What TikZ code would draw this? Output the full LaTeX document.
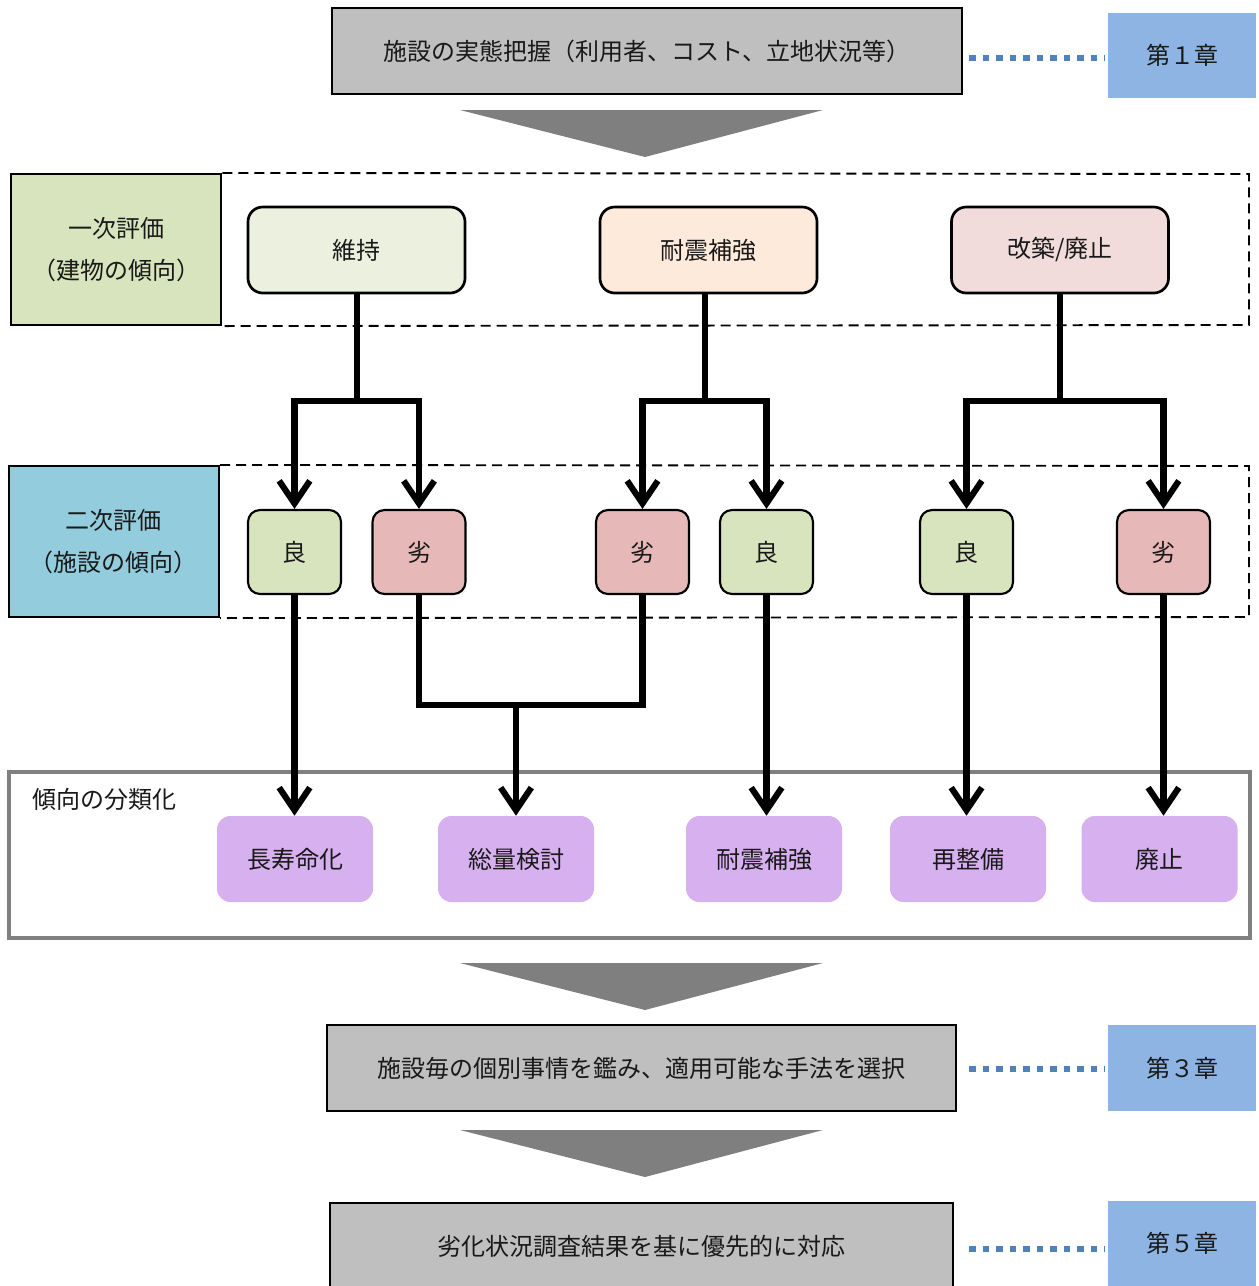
\documentclass[tikz,border=0pt]{standalone}
\usepackage{fontspec}
\setmainfont{Noto Sans CJK JP}
\usetikzlibrary{arrows.meta}
\definecolor{boxgray}{HTML}{BFBFBF}
\definecolor{chblue}{HTML}{8EB4E3}
\definecolor{lblgreen}{HTML}{D7E4BD}
\definecolor{lblblue}{HTML}{93CDDD}
\definecolor{keepc}{HTML}{EBF1DE}
\definecolor{seisc}{HTML}{FDEADA}
\definecolor{kaic}{HTML}{F2DCDB}
\definecolor{goodc}{HTML}{D7E4BD}
\definecolor{badc}{HTML}{E6B9B8}
\definecolor{purp}{HTML}{D7B0EF}
\definecolor{dotblue}{HTML}{4F81BD}
\definecolor{trigray}{HTML}{7F7F7F}
\definecolor{framegray}{HTML}{808080}
\tikzset{
  txt/.style={font=\fontsize{18}{31}\selectfont, text=black!90, align=center, inner sep=0pt},
  graybox/.style={txt, draw=black, line width=2pt, fill=boxgray, minimum height=64.5pt},
  chbox/.style={txt, fill=chblue, minimum width=111pt, minimum height=64pt},
  lblbox/.style={txt, draw=black, line width=1.6pt, minimum width=158pt, minimum height=113.25pt},
  evalbox/.style={txt, draw=black, line width=2pt, rounded corners=11pt, minimum width=162.75pt, minimum height=64.5pt},
  smallbox/.style={txt, draw=black, line width=1.6pt, rounded corners=9pt, minimum width=69.75pt, minimum height=63pt},
  resbox/.style={txt, fill=purp, rounded corners=10pt, minimum width=117pt, minimum height=64.5pt},
  conn/.style={line width=4.6pt, line join=miter},
  arr/.style={conn, -{Straight Barb[length=17pt,width=23pt,line width=4.6pt]}},
  dotline/.style={dotblue, line width=5pt, dash pattern=on 5pt off 5.1pt},
  dashframe/.style={line width=1.4pt, dash pattern=on 7.5pt off 4.5pt},
}
\begin{document}
\begin{tikzpicture}[x=0.75pt,y=-0.75pt]
\useasboundingbox (0,0) rectangle (1258,1286);

% top box and chapter 1
\node[graybox, minimum width=472.5pt] (top) at (647,51) {施設の実態把握（利用者、コスト、立地状況等）};
\node[chbox] (ch1) at (1182,55.5) {第１章};
\draw[dotline] ([xshift=4.5pt]top.east |- 0,58) -- ([xshift=-2pt]ch1.west |- 0,58);

\fill[trigray] (460,110) -- (823,110) -- (645,157) -- cycle;

% first evaluation band
\node[lblbox, fill=lblgreen] (l1) at (116,249.5) {一次評価\\（建物の傾向）};
\draw[dashframe] (l1.north east) -- (1249,174) -- (1249,325) -- (l1.south east);

\node[evalbox, fill=keepc] (e1) at (356.5,250) {維持};
\node[evalbox, fill=seisc] (e2) at (708.5,250) {耐震補強};
\node[evalbox, fill=kaic]  (e3) at (1060,250) {改築/廃止};

% second evaluation band
\node[lblbox, fill=lblblue, minimum width=157.5pt] (l2) at (114,541.5) {二次評価\\（施設の傾向）};
\draw[dashframe] (l2.north east) -- (1249,466) -- (1249,617) -- (l2.south east);

\node[smallbox, fill=goodc] (r1) at (294.5,552) {良};
\node[smallbox, fill=badc]  (r2) at (419,552)   {劣};
\node[smallbox, fill=badc]  (r3) at (642.5,552) {劣};
\node[smallbox, fill=goodc] (r4) at (766.5,552) {良};
\node[smallbox, fill=goodc] (r5) at (966.5,552) {良};
\node[smallbox, fill=badc]  (r6) at (1163.5,552) {劣};

% classification frame
\draw[framegray, line width=3pt] (9,772) rectangle (1250,938);
\node[txt, anchor=west] (cls) at (32,799) {傾向の分類化};

\node[resbox] (p1) at (295,859)    {長寿命化};
\node[resbox] (p2) at (516,859)    {総量検討};
\node[resbox] (p3) at (764,859)    {耐震補強};
\node[resbox] (p4) at (968,859)    {再整備};
\node[resbox] (p5) at (1159.5,859) {廃止};

% branches from first evaluation
\coordinate (b1) at (357,401);
\coordinate (b2) at (705,401);
\coordinate (b3) at (1060,401);
\draw[conn] (e1.south -| b1) -- (b1);
\draw[conn] (e2.south -| b2) -- (b2);
\draw[conn] (e3.south -| b3) -- (b3);
\draw[arr] (b1) -| (r1.north);
\draw[arr] (b1) -| (r2.north);
\draw[arr] (b2) -| (r3.north);
\draw[arr] (b2) -| (r4.north);
\draw[arr] (b3) -| (r5.north);
\draw[arr] (b3) -| (r6.north);

% second evaluation to classification
\coordinate (m) at (516,705);
\draw[arr] (r1.south) -- (r1.south |- p1.north);
\draw[conn] (r2.south) |- (m);
\draw[conn] (r3.south) |- (m);
\draw[arr] (m) -- (p2.north);
\draw[arr] (r4.south) -- (r4.south |- p3.north);
\draw[arr] (r5.south) -- (r5.south |- p4.north);
\draw[arr] (r6.south) -- (r6.south |- p5.north);

\fill[trigray] (460,963) -- (823,963) -- (645,1010) -- cycle;

\node[graybox, minimum width=471.75pt] (mid) at (641.5,1068) {施設毎の個別事情を鑑み、適用可能な手法を選択};
\node[chbox] (ch3) at (1182,1068) {第３章};
\draw[dotline] ([xshift=4.5pt]top.east |- 0,1069) -- ([xshift=-2pt]ch3.west |- 0,1069);

\fill[trigray] (460,1130) -- (823,1130) -- (645,1177) -- cycle;

\node[graybox, minimum width=467.25pt, minimum height=65.25pt] (bot) at (641.5,1246.5) {劣化状況調査結果を基に優先的に対応};
\node[chbox] (ch5) at (1182,1243.5) {第５章};
\draw[dotline] ([xshift=4.5pt]top.east |- 0,1249) -- ([xshift=-2pt]ch5.west |- 0,1249);
\end{tikzpicture}
\end{document}
